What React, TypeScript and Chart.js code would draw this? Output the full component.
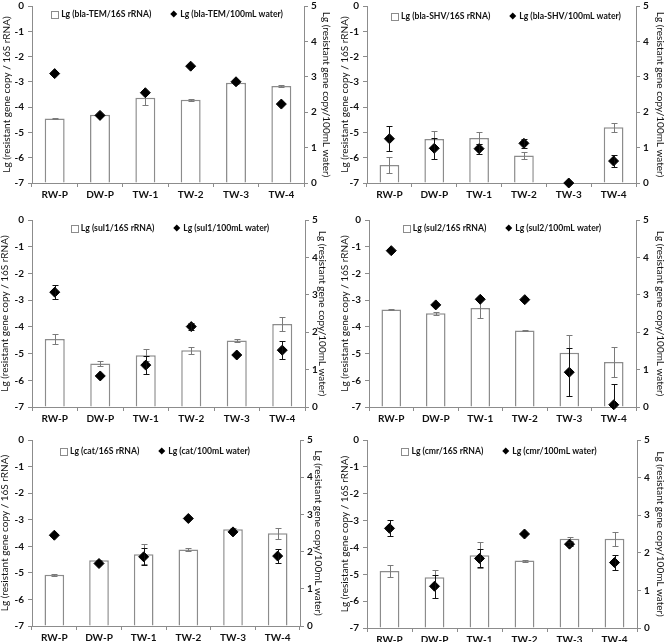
import React, { useEffect, useRef } from 'react';
import { Chart, registerables } from 'chart.js';

Chart.register(...registerables);

// ---------------- data ----------------
const categories = ['RW-P', 'DW-P', 'TW-1', 'TW-2', 'TW-3', 'TW-4'];
const leftTicks = [-7, -6, -5, -4, -3, -2, -1, 0];
const rightTicks = [0, 1, 2, 3, 4, 5];

const temBar = [-4.45, -4.30, -3.63, -3.71, -3.04, -3.16];
const temBarErr = [0.03, 0.02, 0.28, 0.04, 0.03, 0.05];
const temDot = [3.09, 1.91, 2.55, 3.30, 2.86, 2.23];
const temDotErr = [0, 0, 0, 0, 0, 0];

const shvBar = [-6.29, -5.26, -5.22, -5.91, null, -4.80];
const shvBarErr = [0.33, 0.30, 0.22, 0.13, 0, 0.18];
const shvDot = [1.25, 0.98, 0.97, 1.12, 0.0, 0.62];
const shvDotErr = [0.35, 0.30, 0.14, 0.13, 0, 0.18];

const sul1Bar = [-4.45, -5.37, -5.06, -4.88, -4.51, -3.89];
const sul1BarErr = [0.20, 0.10, 0.22, 0.12, 0.06, 0.27];
const sul1Dot = [3.07, 0.83, 1.12, 2.15, 1.39, 1.52];
const sul1DotErr = [0.18, 0, 0.25, 0.10, 0, 0.24];

const sul2Bar = [-3.35, -3.49, -3.29, -4.14, -4.97, -5.32];
const sul2BarErr = [0.02, 0.06, 0.37, 0.03, 0.65, 0.55];
const sul2Dot = [4.18, 2.73, 2.88, 2.87, 0.93, 0.06];
const sul2DotErr = [0, 0, 0, 0, 0.64, 0.55];

const catBar = [-5.07, -4.53, -4.30, -4.12, -3.36, -3.51];
const catBarErr = [0.03, 0.03, 0.37, 0.06, 0.03, 0.20];
const catDot = [2.44, 1.68, 1.86, 2.89, 2.53, 1.88];
const catDotErr = [0, 0, 0.23, 0, 0, 0.18];

const cmrBar = [-4.88, -5.11, -4.29, -4.49, -3.68, -3.68];
const cmrBarErr = [0.21, 0.28, 0.48, 0.04, 0.08, 0.25];
const cmrDot = [2.65, 1.11, 1.85, 2.50, 2.23, 1.74];
const cmrDotErr = [0.21, 0.30, 0.24, 0, 0.06, 0.20];

const leftTitle = 'Lg (resistant gene copy / 16S rRNA)';
const rightTitle = 'Lg (resistant gene copy/100mL water)';

// ---------------- style ----------------
const FONT = 'Lato, "Open Sans", "DejaVu Sans", sans-serif';
const AXIS = '#8c8c8c';
const TEXT = '#111111';

type PanelDef = {
  gene: string;
  bar: (number | null)[];
  barErr: number[];
  dot: number[];
  dotErr: number[];
  x: number; y: number; w: number; h: number;
  lw: number; rw: number; pt: number; xh: number;
  legendCx: number; legendDy: number;
};

const panels: PanelDef[] = [
  { gene: 'bla-TEM', bar: temBar, barErr: temBarErr, dot: temDot, dotErr: temDotErr,
    x: 0, y: 0, w: 333, h: 214, lw: 32, rw: 29, pt: 3, xh: 31, legendCx: 167, legendDy: 8 },
  { gene: 'bla-SHV', bar: shvBar, barErr: shvBarErr, dot: shvDot, dotErr: shvDotErr,
    x: 338, y: 0, w: 329, h: 214, lw: 29, rw: 31, pt: 3, xh: 31, legendCx: 506, legendDy: 10 },
  { gene: 'sul1', bar: sul1Bar, barErr: sul1BarErr, dot: sul1Dot, dotErr: sul1DotErr,
    x: -2, y: 214, w: 331, h: 214, lw: 34, rw: 24, pt: 3, xh: 21, legendCx: 170, legendDy: 8 },
  { gene: 'sul2', bar: sul2Bar, barErr: sul2BarErr, dot: sul2Dot, dotErr: sul2DotErr,
    x: 338, y: 214, w: 329, h: 214, lw: 31, rw: 31, pt: 3, xh: 21, legendCx: 502, legendDy: 8 },
  { gene: 'cat', bar: catBar, barErr: catBarErr, dot: catDot, dotErr: catDotErr,
    x: -2, y: 428, w: 327, h: 214, lw: 34, rw: 25, pt: 12, xh: 16, legendCx: 155, legendDy: 11 },
  { gene: 'cmr', bar: cmrBar, barErr: cmrBarErr, dot: cmrDot, dotErr: cmrDotErr,
    x: 338, y: 428, w: 329, h: 214, lw: 29, rw: 30, pt: 12, xh: 14, legendCx: 499, legendDy: 11 },
];

const errorBarPlugin = {
  id: 'errorBars',
  afterDatasetDraw(chart: any, args: any) {
    const ds: any = chart.data.datasets[args.index];
    const errs: number[] | undefined = ds.errors;
    if (!errs) return;
    const meta = args.meta;
    const yScale = chart.scales[meta.yAxisID];
    const ctx = chart.ctx;
    ctx.save();
    ctx.strokeStyle = ds.errorColor;
    ctx.lineWidth = 1;
    meta.data.forEach((el: any, i: number) => {
      const v = ds.data[i];
      const e = errs[i];
      if (v == null || !e) return;
      const hiV = v + e;
      const loV = v - e;
      const hi = Math.min(hiV, yScale.max);
      const lo = Math.max(loV, yScale.min);
      const x = Math.round(el.x) + 0.5;
      const yT = Math.round(yScale.getPixelForValue(hi)) + 0.5;
      const yB = Math.round(yScale.getPixelForValue(lo)) + 0.5;
      ctx.beginPath();
      ctx.moveTo(x, yT); ctx.lineTo(x, yB);
      if (hi === hiV) { ctx.moveTo(x - 3, yT); ctx.lineTo(x + 3, yT); }
      if (lo === loV) { ctx.moveTo(x - 3, yB); ctx.lineTo(x + 3, yB); }
      ctx.stroke();
    });
    ctx.restore();
  },
};

function makeLegendPlugin(p: PanelDef) {
  const t1 = `Lg (${p.gene}/16S rRNA)`;
  const t2 = `Lg (${p.gene}/100mL water)`;
  return {
    id: 'innerLegend',
    afterDraw(chart: any) {
      const { ctx, chartArea } = chart;
      ctx.save();
      ctx.font = `bold 8.6px ${FONT}`;
      const w1 = ctx.measureText(t1).width;
      const w2 = ctx.measureText(t2).width;
      const sq = 7, g1 = 3, gap = 19, dm = 7, g2 = 3;
      const total = sq + g1 + w1 + gap + dm + g2 + w2;
      const cx = p.legendCx - p.x;
      const y = chartArea.top + p.legendDy;
      let x = cx - total / 2;
      ctx.strokeStyle = AXIS;
      ctx.lineWidth = 1;
      ctx.fillStyle = '#fff';
      ctx.fillRect(Math.round(x) + 0.5, Math.round(y - sq / 2) + 0.5, sq, sq);
      ctx.strokeRect(Math.round(x) + 0.5, Math.round(y - sq / 2) + 0.5, sq, sq);
      x += sq + g1;
      ctx.fillStyle = TEXT;
      ctx.textBaseline = 'middle';
      ctx.textAlign = 'left';
      ctx.fillText(t1, x, y + 0.5);
      x += w1 + gap;
      const dcx = x + dm / 2;
      ctx.beginPath();
      ctx.moveTo(dcx, y - dm / 2);
      ctx.lineTo(dcx + dm / 2, y);
      ctx.lineTo(dcx, y + dm / 2);
      ctx.lineTo(dcx - dm / 2, y);
      ctx.closePath();
      ctx.fillStyle = '#000';
      ctx.fill();
      x += dm + g2;
      ctx.fillStyle = TEXT;
      ctx.fillText(t2, x, y + 0.5);
      ctx.restore();
    },
  };
}

function PanelChart({ p }: { p: PanelDef }) {
  const ref = useRef<HTMLCanvasElement>(null);
  useEffect(() => {
    if (!ref.current) return;
    const tickFont = { family: FONT, size: 10, weight: 'bold' as const };
    const titleFont = { family: FONT, size: 10, weight: 'normal' as const };
    const chart = new Chart(ref.current, {
      type: 'bar',
      data: {
        labels: categories,
        datasets: [
          {
            type: 'bar',
            data: p.bar as any,
            errors: p.barErr,
            errorColor: '#7a7a7a',
            yAxisID: 'y',
            base: -7,
            backgroundColor: '#ffffff',
            borderColor: AXIS,
            borderWidth: 1.5,
            barPercentage: 0.44,
            categoryPercentage: 1,
            order: 2,
          } as any,
          {
            type: 'line',
            data: p.dot,
            errors: p.dotErr,
            errorColor: '#111111',
            yAxisID: 'y2',
            showLine: false,
            pointStyle: 'rectRot',
            pointRadius: 5,
            pointBackgroundColor: '#000',
            pointBorderColor: '#000',
            pointBorderWidth: 1,
            clip: false,
            order: 1,
          } as any,
        ],
      },
      options: {
        animation: false,
        responsive: false,
        devicePixelRatio: 1,
        layout: { padding: { top: p.pt, left: 0, right: 0, bottom: 0 } },
        plugins: { legend: { display: false }, tooltip: { enabled: false } },
        scales: {
          x: {
            type: 'category',
            offset: true,
            grid: { display: true, drawOnChartArea: false, drawTicks: true, tickLength: 4, color: AXIS, offset: true },
            border: { display: true, color: AXIS, width: 1 },
            ticks: { font: tickFont, color: TEXT, padding: 2, maxRotation: 0, autoSkip: false },
            afterFit: (s: any) => { s.height = p.xh; s.paddingLeft = 0; s.paddingRight = 0; },
          },
          y: {
            type: 'linear',
            position: 'left',
            min: leftTicks[0],
            max: leftTicks[leftTicks.length - 1],
            afterBuildTicks: (s: any) => { s.ticks = leftTicks.map((v) => ({ value: v })); },
            grid: { display: true, drawOnChartArea: false, drawTicks: true, tickLength: 4, color: AXIS },
            border: { display: true, color: AXIS, width: 1 },
            ticks: { font: tickFont, color: TEXT, padding: 4 },
            title: { display: true, text: leftTitle, font: titleFont, color: TEXT, padding: { top: 1, bottom: 0 } },
            afterFit: (s: any) => { s.width = p.lw; s.paddingTop = 0; s.paddingBottom = 0; },
          },
          y2: {
            type: 'linear',
            position: 'right',
            min: rightTicks[0],
            max: rightTicks[rightTicks.length - 1],
            afterBuildTicks: (s: any) => { s.ticks = rightTicks.map((v) => ({ value: v })); },
            grid: { display: true, drawOnChartArea: false, drawTicks: true, tickLength: 4, color: AXIS },
            border: { display: true, color: AXIS, width: 1 },
            ticks: { font: tickFont, color: TEXT, padding: 3 },
            title: { display: true, text: rightTitle, font: titleFont, color: TEXT, padding: { top: 1, bottom: 0 } },
            afterFit: (s: any) => { s.width = p.rw; s.paddingTop = 0; s.paddingBottom = 0; },
          },
        },
      } as any,
      plugins: [errorBarPlugin as any, makeLegendPlugin(p) as any],
    });
    return () => chart.destroy();
  }, []);
  return (
    <canvas
      ref={ref}
      width={p.w}
      height={p.h}
      style={{ position: 'absolute', left: p.x, top: p.y, width: p.w, height: p.h }}
    />
  );
}

export default function App() {
  return (
    <div style={{ position: 'absolute', left: 0, top: 0, width: 664, height: 642, overflow: 'hidden', background: '#fff' }}>
      {panels.map((p) => (
        <PanelChart key={p.gene} p={p} />
      ))}
    </div>
  );
}
